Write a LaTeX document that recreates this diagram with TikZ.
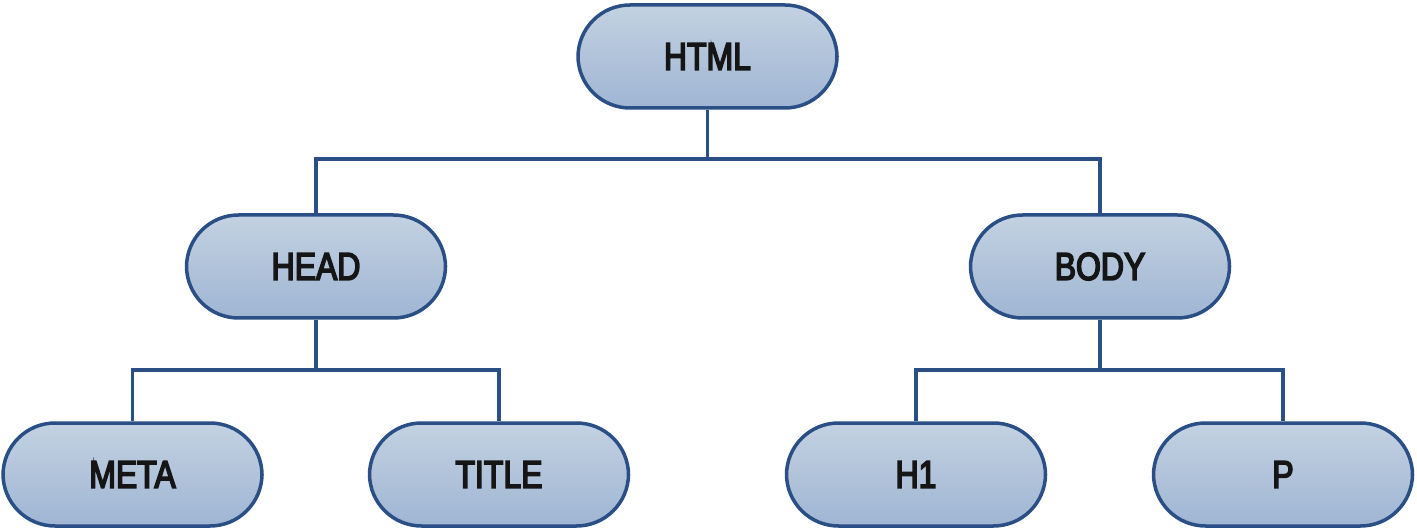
\documentclass[tikz,border=0pt]{standalone}
\usepackage{fontspec}
\setmainfont{Liberation Sans}[FakeStretch=0.83]
\newfontfamily\pillfont{Liberation Sans}[FakeStretch=0.82, FakeBold=4]
\definecolor{edgeblue}{HTML}{2A4E86}
\definecolor{filltop}{HTML}{C3D2E2}
\definecolor{fillbot}{HTML}{9FB5D3}
\definecolor{txt}{HTML}{151515}
\begin{document}
\begin{tikzpicture}[x=1pt,y=-1pt,
  pill/.style={draw=edgeblue, line width=3.5pt, rounded corners=52pt,
    top color=filltop, bottom color=fillbot,
    minimum width=259pt, minimum height=103pt, inner sep=0pt,
    font=\pillfont\fontsize{39}{39}\selectfont, text=txt},
  link/.style={draw=edgeblue, line width=3.5pt}]
\useasboundingbox (0,0) rectangle (1417,529);
\node[pill] (html) at (707.5,56.5) {HTML};
\node[pill] (head) at (316,266.5) {HEAD};
\node[pill] (body) at (1100,266.5) {BODY};
\node[pill] (meta) at (132.5,474.5) {META};
\node[pill] (title) at (499,474.5) {TITLE};
\node[pill] (h1) at (916,474.5) {H1};
\node[pill] (p) at (1283,474.5) {P};
\coordinate (j0) at (707.5,159);
\coordinate (j1) at (316,370);
\coordinate (j2) at (1100,370);
\draw[link] (html.south) -- (j0);
\draw[link] (j0) -| (head.north);
\draw[link] (j0) -| (body.north);
\draw[link] (head.south) -- (j1);
\draw[link] (j1) -| (meta.north);
\draw[link] (j1) -| (title.north);
\draw[link] (body.south) -- (j2);
\draw[link] (j2) -| (h1.north);
\draw[link] (j2) -| (p.north);
\end{tikzpicture}
\end{document}
